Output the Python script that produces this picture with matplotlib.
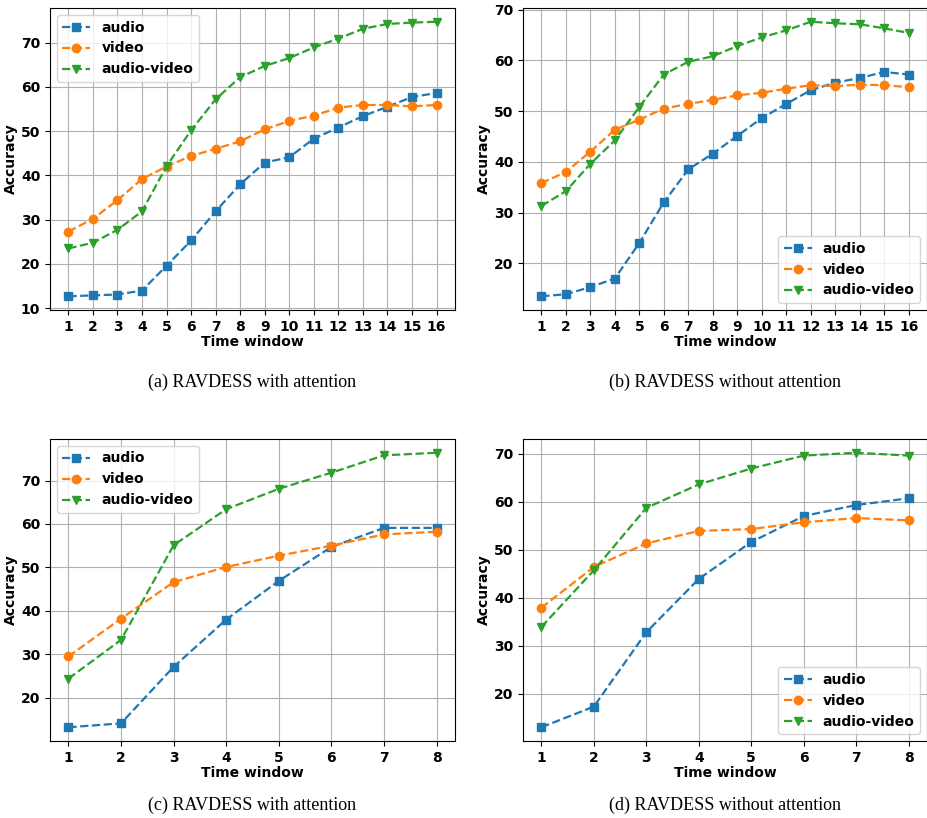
import numpy as np
import matplotlib
matplotlib.use("Agg")
import matplotlib.pyplot as plt

# time windows
x16 = list(range(1, 17))
x8 = list(range(1, 9))

# (a) RAVDESS with attention, 16 windows
a_audio = [12.7, 12.9, 13.1, 14.0, 19.6, 25.3, 31.9, 38.0, 42.9, 44.1, 48.3, 50.8, 53.4, 55.5, 57.7, 58.6]
a_video = [27.3, 30.2, 34.4, 39.2, 42.0, 44.4, 46.0, 47.7, 50.4, 52.3, 53.5, 55.3, 55.9, 55.9, 55.6, 55.9]
a_av = [23.5, 24.8, 27.7, 31.9, 42.1, 50.2, 57.2, 62.2, 64.7, 66.5, 68.9, 70.9, 73.1, 74.2, 74.5, 74.7]

# (b) RAVDESS without attention, 16 windows
b_audio = [13.5, 13.9, 15.3, 17.0, 24.0, 32.0, 38.5, 41.6, 45.1, 48.6, 51.4, 54.1, 55.6, 56.5, 57.7, 57.2]
b_video = [35.8, 38.0, 42.0, 46.3, 48.3, 50.5, 51.4, 52.2, 53.1, 53.6, 54.4, 55.1, 54.9, 55.2, 55.1, 54.7]
b_av = [31.3, 34.2, 39.6, 44.2, 50.8, 57.2, 59.7, 60.8, 62.8, 64.5, 65.9, 67.6, 67.3, 67.1, 66.3, 65.4]

# (c) RAVDESS with attention, 8 windows
c_audio = [13.2, 14.1, 27.1, 38.0, 46.9, 54.7, 59.1, 59.1]
c_video = [29.5, 38.2, 46.6, 50.1, 52.7, 55.0, 57.6, 58.2]
c_av = [24.4, 33.3, 55.1, 63.4, 68.1, 71.8, 75.8, 76.4]

# (d) RAVDESS without attention, 8 windows
d_audio = [13.0, 17.3, 32.8, 43.9, 51.6, 57.0, 59.3, 60.7]
d_video = [37.9, 46.4, 51.3, 53.9, 54.3, 55.7, 56.6, 56.1]
d_av = [33.9, 45.7, 58.7, 63.6, 66.9, 69.6, 70.2, 69.6]

captions = ["(a) RAVDESS with attention", "(b) RAVDESS without attention",
            "(c) RAVDESS with attention", "(d) RAVDESS without attention"]

W, H = 928, 818
fig = plt.figure(figsize=(W / 100, H / 100), dpi=100)

# axes boxes in pixels: left, top, right, bottom, caption y
boxes = [(50, 8, 455, 310, 382), (523, 8, 927, 310, 382),
         (50, 439, 455, 741, 805), (523, 439, 927, 741, 805)]
panels = [(x16, a_audio, a_video, a_av, "upper left"),
          (x16, b_audio, b_video, b_av, "lower right"),
          (x8, c_audio, c_video, c_av, "upper left"),
          (x8, d_audio, d_video, d_av, "lower right")]

for (l, t, r, b, capy), (xs, au, vi, av, loc), cap in zip(boxes, panels, captions):
    ax = fig.add_axes([l / W, 1 - b / H, (r - l) / W, (b - t) / H])
    ax.plot(xs, au, "s--", color="tab:blue", lw=1.6, ms=6, label="audio", zorder=3)
    ax.plot(xs, vi, "o--", color="tab:orange", lw=1.6, ms=6, label="video", zorder=3)
    ax.plot(xs, av, "v--", color="tab:green", lw=1.6, ms=6, label="audio-video", zorder=3)
    ax.set_xticks(xs)
    ax.grid(True)
    for lab in ax.get_xticklabels() + ax.get_yticklabels():
        lab.set_fontweight("bold")
        lab.set_fontsize(10)
    ax.set_xlabel("Time window", fontweight="bold", fontsize=10, labelpad=1)
    ax.set_ylabel("Accuracy", fontweight="bold", fontsize=10, labelpad=2)
    ax.legend(loc=loc, prop={"weight": "bold", "size": 10})
    cx = (l + r) / 2 / W
    fig.text(cx, 1 - capy / H, cap, ha="center", va="center", fontsize=13,
             family="Liberation Serif")

fig.savefig("out.png", dpi=100)
